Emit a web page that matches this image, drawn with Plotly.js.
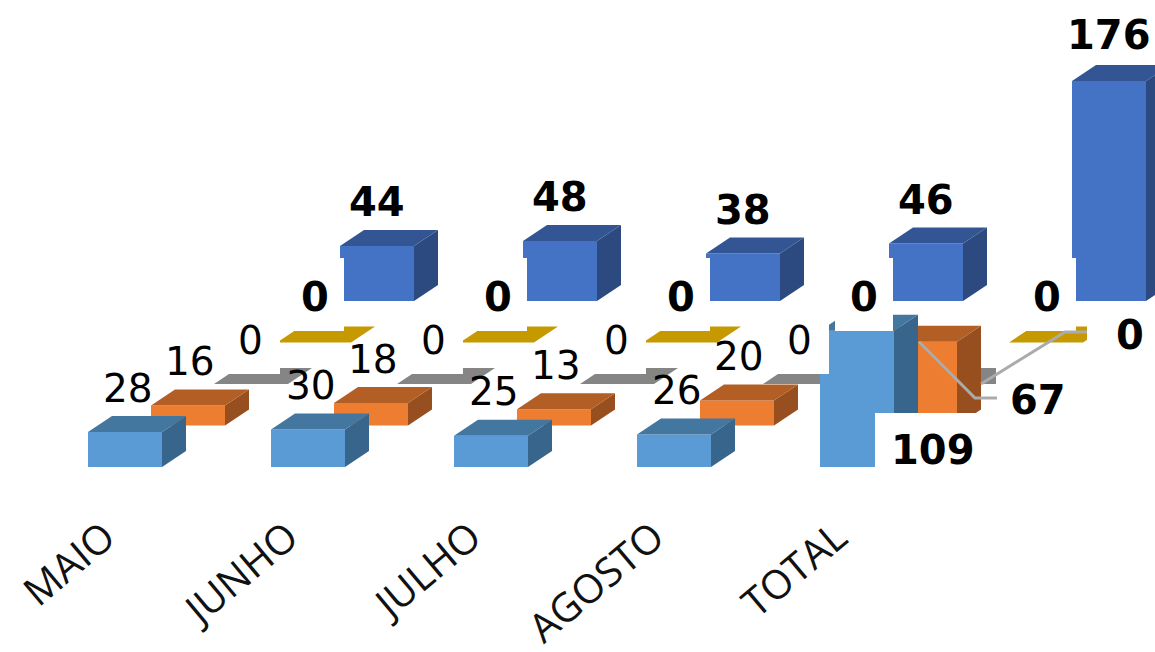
<!DOCTYPE html>
<html>
<head>
<meta charset="utf-8">
<script src="https://cdn.plot.ly/plotly-3.0.1.min.js"></script>
<style>html,body{margin:0;padding:0;background:#fff}#c{width:1155px;height:652px}</style>
</head>
<body>
<div id="c"></div>
<script>
var categories = ['MAIO', 'JUNHO', 'JULHO', 'AGOSTO', 'TOTAL'];
var seriesA = [28, 30, 25, 26, 109];
var seriesB = [16, 18, 13, 20, 67];
var seriesC = [0, 0, 0, 0, 0];
var seriesD = [0, 0, 0, 0, 0];
var seriesE = [44, 48, 38, 46, 176];

// oblique projection of the 3-D column chart on to a pixel-sized plot
var rows = [seriesA, seriesB, seriesC, seriesD, seriesE];
var faces = [
  {front: '#5B9BD5', top: '#44779F', side: '#38658C'},
  {front: '#ED7D31', top: '#B35E25', side: '#974F1F'},
  {front: '#A5A5A5', top: '#858585', side: '#707070'},
  {front: '#FFC000', top: '#C69900', side: '#A07C00'},
  {front: '#4472C4', top: '#335594', side: '#2C4A80'}
];
var X0 = 88, CAT = 183, ROWX = 63, Y0 = 467, ROWY = 41.5, W = 74, DX = 24, DY = 16, K = 1.25;
function barLeft(i, s) { return X0 + CAT * i + ROWX * s; }
function barBase(s) { return Y0 - ROWY * s; }
function barTop(v, s) { return barBase(s) - v * K; }

var traces = [];
function poly(color, xs, ys) {
  traces.push({type: 'scatter', mode: 'lines', x: xs, y: ys, fill: 'toself', fillcolor: color,
    line: {width: 0, color: color}, hoverinfo: 'skip', showlegend: false});
}
for (var s = rows.length - 1; s >= 0; s--) {
  var fx = [], fy = [], sx = [], sy = [], tx = [], ty = [];
  rows[s].forEach(function (v, i) {
    var l = barLeft(i, s), r = l + W, b = barBase(s), t = barTop(v, s);
    fx.push(l, r, r, l, l, null); fy.push(b, b, t, t, b, null);
    sx.push(r, r + DX, r + DX, r, r, null); sy.push(b, b - DY, t - DY, t, b, null);
    tx.push(l, r, r + DX, l + DX, l, null); ty.push(t, t, t - DY, t - DY, t, null);
  });
  poly(faces[s].front, fx, fy);
  poly(faces[s].side, sx, sy);
  poly(faces[s].top, tx, ty);
}

var total = categories.length - 1;
var labelA = {x: 933, y: 450}, labelB = {x: 1038, y: 400}, labelC = {x: 1130, y: 335};

// white backing boxes of the data labels
var bx = [], by = [];
function box(cx, cy, w, h) {
  bx.push(cx - w / 2, cx + w / 2, cx + w / 2, cx - w / 2, cx - w / 2, null);
  by.push(cy - h / 2, cy - h / 2, cy + h / 2, cy + h / 2, cy - h / 2, null);
}

var annotations = [];
function label(text, x, y, bold) {
  annotations.push({xref: 'x', yref: 'y', x: x, y: y, text: bold ? '<b>' + text + '</b>' : String(text),
    showarrow: false, xanchor: 'center', yanchor: 'middle', align: 'center',
    font: {family: 'DejaVu Sans', size: bold ? 40 : 39, color: '#000'}});
}
rows.forEach(function (vals, s) {
  vals.forEach(function (v, i) {
    var cx = barLeft(i, s) + W / 2, y = barTop(v, s) - 44, isT = i === total;
    if (s === 0) {
      if (isT) { box(labelA.x, labelA.y, 116, 74); label(v, labelA.x, labelA.y, true); }
      else label(v, cx + 3, y, false);
    } else if (s === 1) {
      if (isT) { box(labelB.x, labelB.y, 84, 74); label(v, labelB.x, labelB.y, true); }
      else label(v, cx + 2, y, false);
    } else if (s === 2) {
      if (isT) { box(labelC.x, labelC.y, 86, 68); label(v, labelC.x, labelC.y, true); }
      else { box(cx - 1, y, 60, 68); label(v, cx - 1, y, false); }
    } else if (s === 3) {
      box(cx + 1, y - 4, 58, 73); label(v, cx + 1, y - 2, true);
    } else {
      label(v, cx, i === total ? y - 2 : y, true);
    }
  });
});
poly('#fff', bx, by);

// leader lines of the TOTAL labels
function leader(xs, ys) {
  traces.push({type: 'scatter', mode: 'lines', x: xs, y: ys,
    line: {color: '#ABABAB', width: 3}, hoverinfo: 'skip', showlegend: false});
}
var oL = barLeft(total, 1) + DX + 12, oT = barTop(seriesB[total], 1);
leader([oL, labelB.x - 63, labelB.x - 41], [oT, labelB.y - 2, labelB.y - 2]);
leader([barLeft(total, 1) + W + DX, labelC.x - 65, labelC.x - 43],
       [barBase(2), labelC.y - 3, labelC.y - 3]);

var layout = {
  width: 1155, height: 652,
  margin: {l: 0, r: 0, t: 0, b: 147, pad: 0},
  paper_bgcolor: '#fff', plot_bgcolor: '#fff',
  showlegend: false,
  xaxis: {range: [0, 1155], showgrid: false, zeroline: false, showline: false, ticks: '',
    tickmode: 'array', tickvals: categories.map(function (c, i) { return 105 + CAT * i; }),
    ticktext: categories, tickangle: -40, automargin: false,
    tickfont: {family: 'Open Sans', size: 40, color: '#111'}},
  yaxis: {range: [505, 0], visible: false, automargin: false},
  annotations: annotations
};
Plotly.newPlot('c', traces, layout, {displayModeBar: false, staticPlot: true});
</script>
</body>
</html>
